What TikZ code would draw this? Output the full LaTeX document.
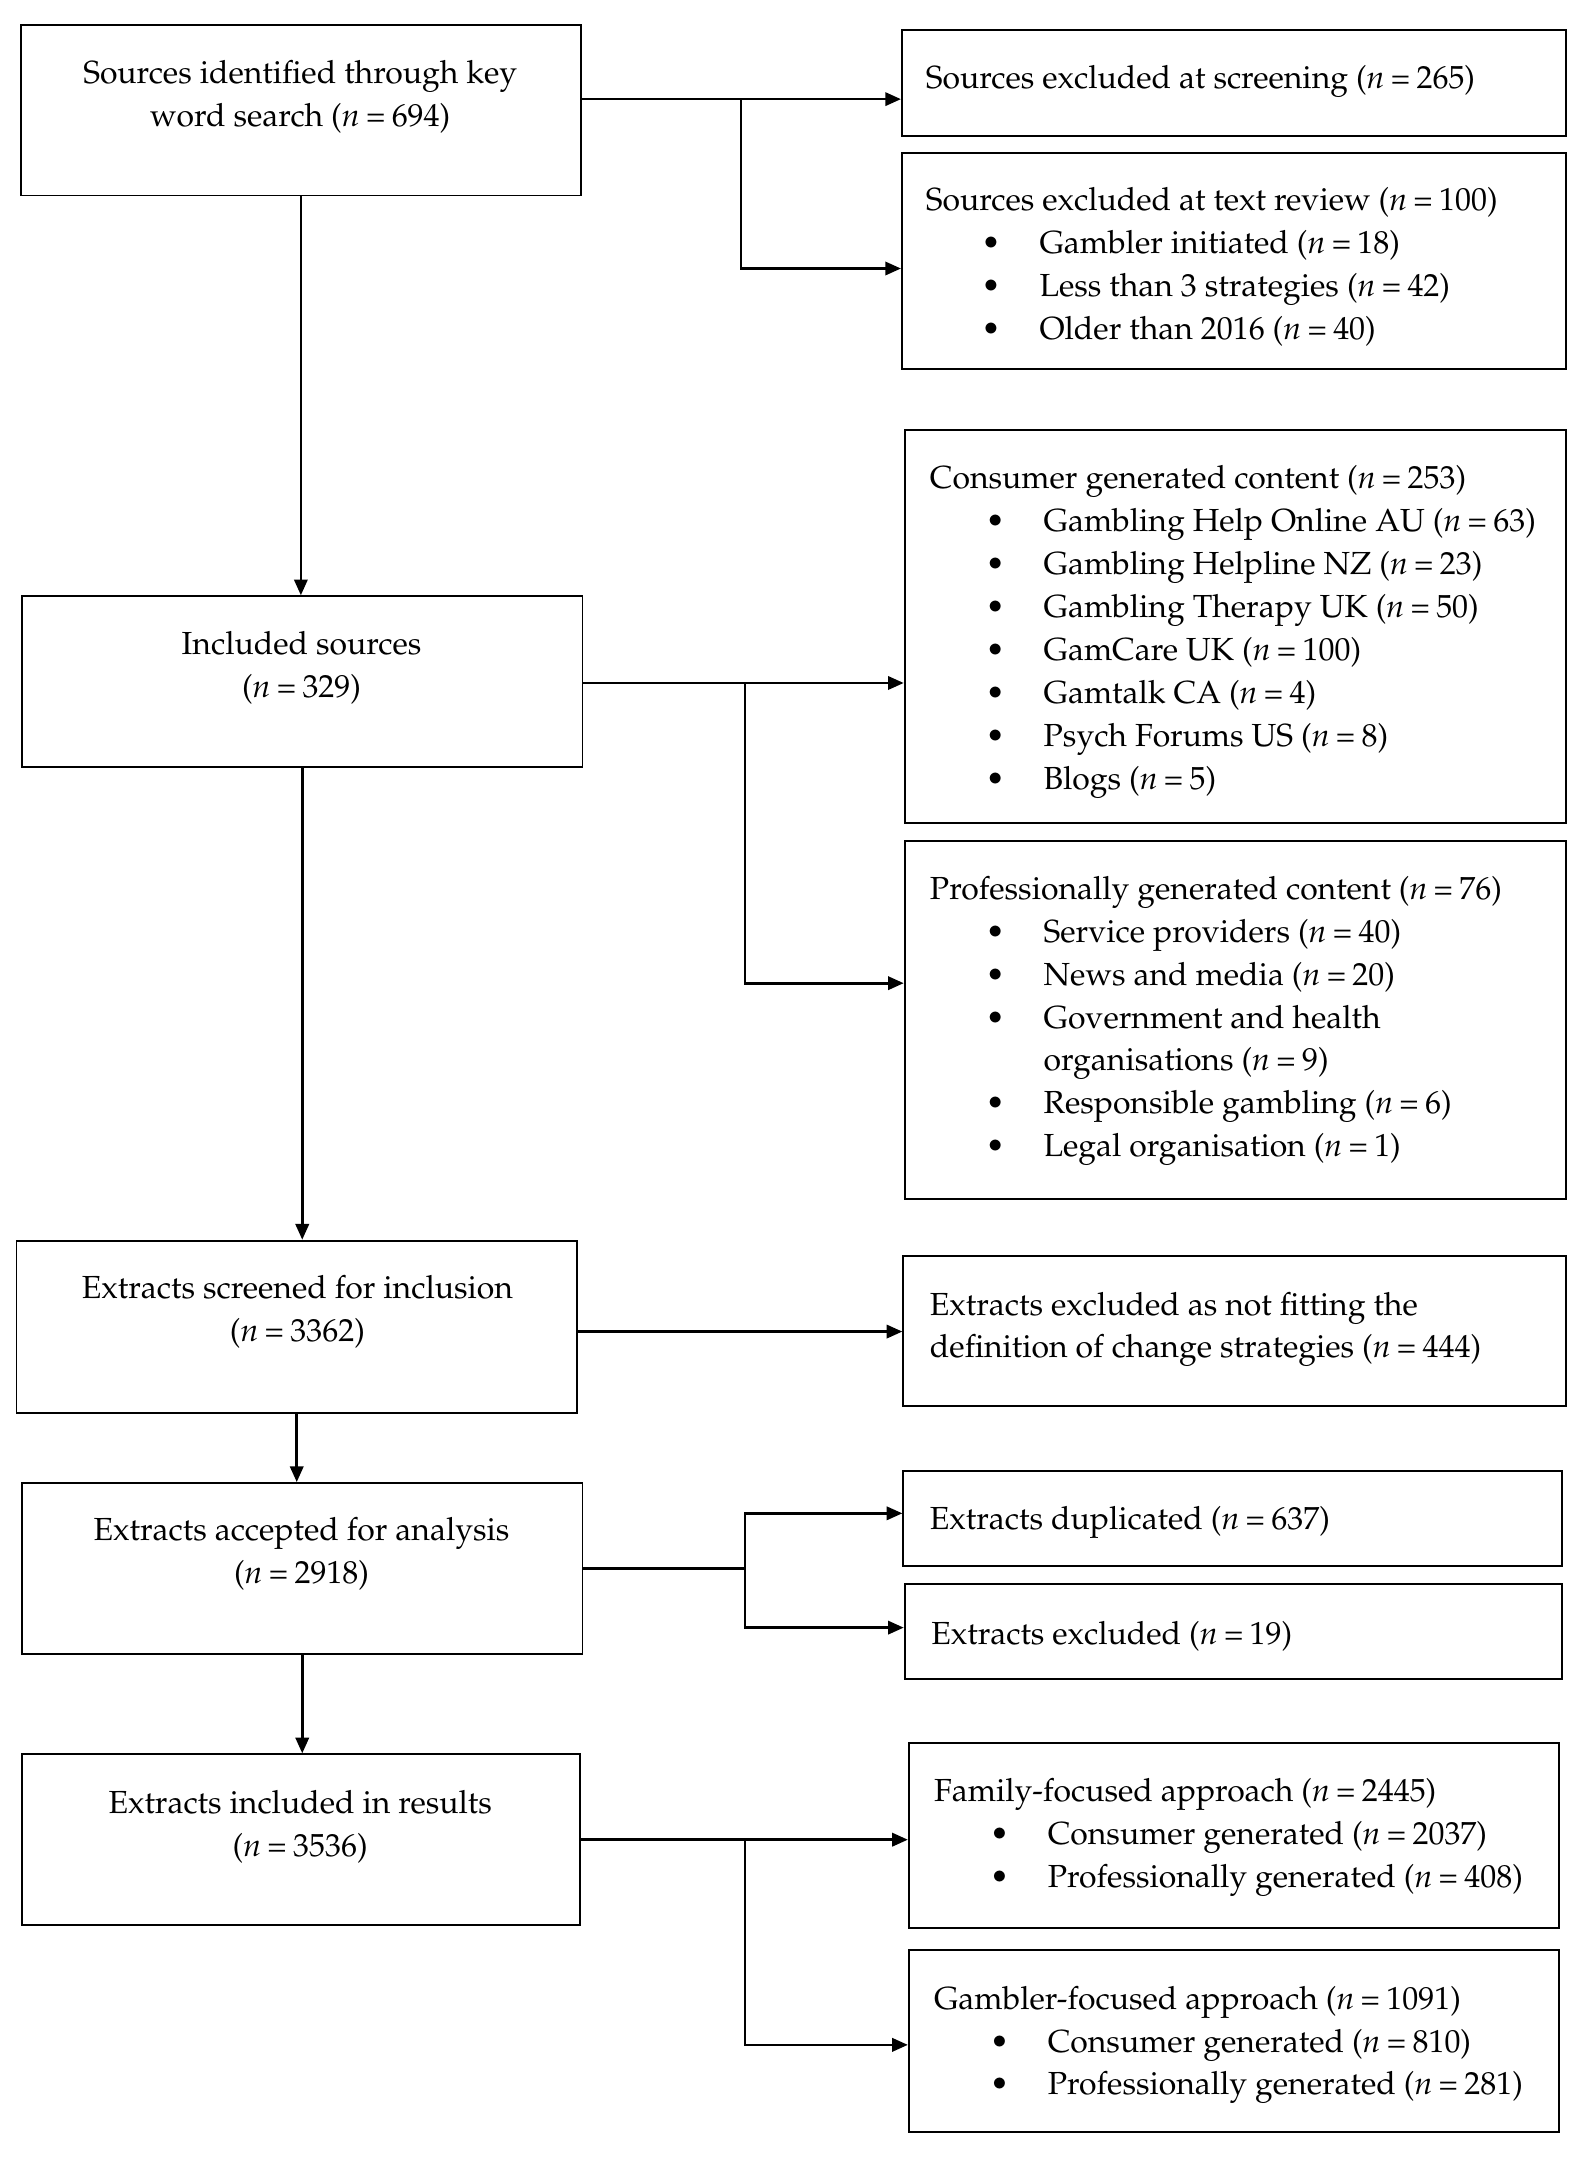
\documentclass[tikz,border=0pt]{standalone}
\usepackage[T1]{fontenc}
\usepackage{mathpazo}
\usetikzlibrary{arrows.meta,fit}
\newcommand\nv[1]{(\textit{n}\hspace{0.2em}=\hspace{0.2em}#1)}
\newcommand\bl{\makebox[47pt][l]{\hspace*{23pt}\textbullet}}
\newcommand\ind{\hspace*{47pt}}
\begin{document}
\begin{tikzpicture}[x=0.02cm,y=-0.02cm,
  box/.style={draw, line width=0.8pt, inner sep=0pt},
  txt/.style={inner sep=0pt, font=\fontsize{13.2}{17.75}\selectfont},
  conn/.style={line width=1.1pt},
  arr/.style={conn, -{Triangle[length=6.5pt,width=5.5pt]}}]
\useasboundingbox (0,0) rectangle (1152.5,1567.9);
% boxes
\node[box, fit={(15,18) (422,142)}] (b1) {};
\node[box, fit={(655,22) (1137,99)}] (b2) {};
\node[box, fit={(655,111) (1137,268)}] (b3) {};
\node[box, fit={(16,433) (423,557)}] (b4) {};
\node[box, fit={(657,312) (1137,598)}] (b5) {};
\node[box, fit={(657,611) (1137,871)}] (b6) {};
\node[box, fit={(12,901) (419,1026)}] (b7) {};
\node[box, fit={(656,912) (1137,1021)}] (b8) {};
\node[box, fit={(16,1077) (423,1201)}] (b9) {};
\node[box, fit={(656,1068) (1134,1137)}] (b10) {};
\node[box, fit={(657,1150) (1134,1219)}] (b11) {};
\node[box, fit={(16,1274) (421,1398)}] (b12) {};
\node[box, fit={(660,1266) (1132,1400)}] (b13) {};
\node[box, fit={(660,1416) (1132,1548)}] (b14) {};
% texts
\node[txt, anchor=base] (t1) at (218,61) {\begin{tabular}[t]{@{}c@{}}Sources identified through key\\word search \nv{694}\end{tabular}};
\node[txt, anchor=base west] (t2) at (672,64) {Sources excluded at screening \nv{265}};
\node[txt, anchor=base west] (t3) at (672,153) {\begin{tabular}[t]{@{}l@{}}Sources excluded at text review \nv{100}\\
\bl Gambler initiated \nv{18}\\
\bl Less than 3 strategies \nv{42}\\
\bl Older than 2016 \nv{40}\end{tabular}};
\node[txt, anchor=base] (t4) at (219,475) {\begin{tabular}[t]{@{}c@{}}Included sources\\\nv{329}\end{tabular}};
\node[txt, anchor=base west] (t5) at (675,355) {\begin{tabular}[t]{@{}l@{}}Consumer generated content \nv{253}\\
\bl Gambling Help Online AU \nv{63}\\
\bl Gambling Helpline NZ \nv{23}\\
\bl Gambling Therapy UK \nv{50}\\
\bl GamCare UK \nv{100}\\
\bl Gamtalk CA \nv{4}\\
\bl Psych Forums US \nv{8}\\
\bl Blogs \nv{5}\end{tabular}};
\node[txt, anchor=base west] (t6) at (675,653) {\begin{tabular}[t]{@{}l@{}}Professionally generated content \nv{76}\\
\bl Service providers \nv{40}\\
\bl News and media \nv{20}\\
\bl Government and health\\
\ind organisations \nv{9}\\
\bl Responsible gambling \nv{6}\\
\bl Legal organisation \nv{1}\end{tabular}};
\node[txt, anchor=base] (t7) at (216,943) {\begin{tabular}[t]{@{}c@{}}Extracts screened for inclusion\\\nv{3362}\end{tabular}};
\node[txt, anchor=base west] (t8) at (675,955) {\begin{tabular}[t]{@{}l@{}}Extracts excluded as not fitting the\\definition of change strategies \nv{444}\end{tabular}};
\node[txt, anchor=base] (t9) at (219,1119) {\begin{tabular}[t]{@{}c@{}}Extracts accepted for analysis\\\nv{2918}\end{tabular}};
\node[txt, anchor=base west] (t10) at (675,1111) {Extracts duplicated \nv{637}};
\node[txt, anchor=base west] (t11) at (676,1194) {Extracts excluded \nv{19}};
\node[txt, anchor=base] (t12) at (218,1317) {\begin{tabular}[t]{@{}c@{}}Extracts included in results\\\nv{3536}\end{tabular}};
\node[txt, anchor=base west] (t13) at (678,1308) {\begin{tabular}[t]{@{}l@{}}Family-focused approach \nv{2445}\\
\bl Consumer generated \nv{2037}\\
\bl Professionally generated \nv{408}\end{tabular}};
\node[txt, anchor=base west] (t14) at (678,1459) {\begin{tabular}[t]{@{}l@{}}Gambler-focused approach \nv{1091}\\
\bl Consumer generated \nv{810}\\
\bl Professionally generated \nv{281}\end{tabular}};
% junctions
\coordinate (j1) at (538,72);
\coordinate (j2) at (538,195);
\coordinate (j3) at (541,496);
\coordinate (j4) at (541,714);
\coordinate (j5) at (540,967);
\coordinate (j6) at (541,1139);
\coordinate (j7) at (541,1099);
\coordinate (j8) at (541,1182);
\coordinate (j9) at (541,1336);
\coordinate (j10) at (541,1485);
% connectors
\draw[arr] (b1.east |- j1) -- (b2.west |- j1);
\draw[arr] (j1) -- (j2) -- (b3.west |- j2);
\draw[arr] (b1.south) -- (b1.south |- b4.north);
\draw[arr] (b4.east |- j3) -- (b5.west |- j3);
\draw[arr] (j3) -- (j4) -- (b6.west |- j4);
\draw[arr] (b4.south) -- (b4.south |- b7.north);
\draw[arr] (b7.east |- j5) -- (b8.west |- j5);
\draw[arr] (b7.south) -- (b7.south |- b9.north);
\draw[conn] (b9.east |- j6) -- (j6);
\draw[arr] (j6) -- (j7) -- (b10.west |- j7);
\draw[arr] (j6) -- (j8) -- (b11.west |- j8);
\draw[arr] (b9.south) -- (b9.south |- b12.north);
\draw[arr] (b12.east |- j9) -- (b13.west |- j9);
\draw[arr] (j9) -- (j10) -- (b14.west |- j10);
\end{tikzpicture}
\end{document}
